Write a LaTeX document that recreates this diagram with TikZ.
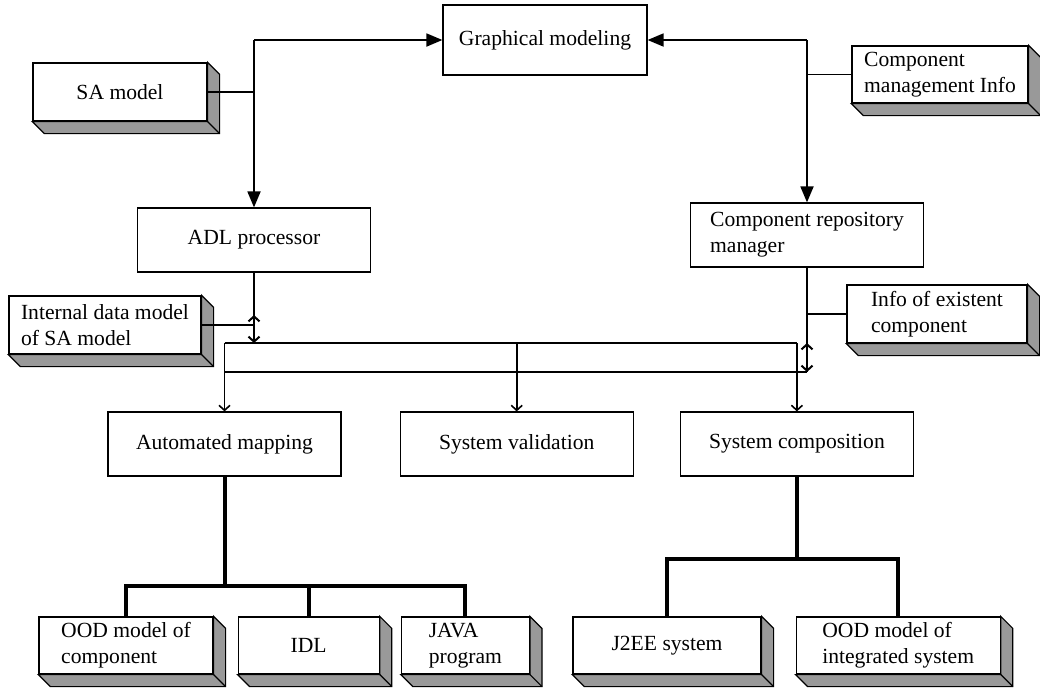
\documentclass[tikz,border=0pt]{standalone}
\usepackage{fontspec}
\setmainfont{Liberation Serif}
\usepackage{tikz}
\usetikzlibrary{positioning,calc,arrows.meta}
\definecolor{slabgray}{gray}{0.6}
\tikzstyle{block} = [draw, rectangle, line width=0.6pt, minimum height=32pt, minimum width=116.5pt, fill=white, align=left]
\tikzstyle{slab} = [draw, rectangle, line width=0.6pt, minimum height=29pt, inner ysep=2pt, fill=white, align=left]
\tikzstyle{arrowto} = [-{Triangle[length=8pt,width=6.5pt]}, line width=0.9pt]
\tikzstyle{feed} = [-{Straight Barb[length=2.5pt,width=5.5pt]}, line width=0.8pt]
\tikzstyle{twoway} = [{Straight Barb[length=2.5pt,width=5.5pt]}-{Straight Barb[length=2.5pt,width=5.5pt]}, line width=1pt]
\tikzstyle{bus} = [line width=0.6pt]
\tikzstyle{thicktree} = [line width=2pt]
\newcommand{\slabside}[1]{%
  \filldraw[fill=slabgray, line width=0.6pt] (#1.north east) -- ++(12,12) -- ($(#1.south east)+(12,12)$)
    -- ($(#1.south west)+(12,12)$) -- (#1.south west) -- (#1.south east) -- cycle;
  \draw[line width=0.6pt] (#1.south east) -- ++(12,12);}

\begin{document}
\begin{tikzpicture}[x=0.5pt, y=-0.5pt, font=\fontsize{10.8}{13}\selectfont]
	\useasboundingbox (0,0) rectangle (1040,687);
	% upper part
	\node (gm) [block, minimum width=102pt, minimum height=35pt] at (545,40) {Graphical modeling};
	\node (sa) [slab, minimum width=87pt] at (120,92) {SA model};
	\node (cmi) [slab, minimum width=88pt, minimum height=28.5pt] at (940,74.5) {Component\\management Info};
	\node (adl) [block] at (254,240) {ADL processor};
	\node (crm) [block] at (807,235) {Component repository\\manager};
	\node (idm) [slab, minimum width=96pt] at (105,325) {Internal data model\\of SA model};
	\node (info) [slab, minimum width=90pt] at (937,314) {Info of existent\\component};
	% tools
	\node (am) [block] at (224.5,444) {Automated mapping};
	\node (sv) [block, right=29pt of am] {System validation};
	\node (sc) [block, right=23pt of sv] {System composition};
	% results
	\node (oodc) [slab, minimum width=87pt, minimum height=28.5pt] at (126,645.5) {OOD model of\\component};
	\node (idl) [slab, minimum width=70.5pt, minimum height=28.5pt, right=12pt of oodc] {IDL};
	\node (java) [slab, minimum width=64pt, minimum height=28.5pt, right=10.5pt of idl] {JAVA\\program};
	\node (j2ee) [slab, minimum width=94pt, minimum height=28.5pt] at (667,645.5) {J2EE system};
	\node (oodi) [slab, minimum width=102pt, minimum height=28.5pt, right=17pt of j2ee] {OOD model of\\integrated system};
	\slabside{sa} \slabside{cmi} \slabside{idm} \slabside{info}
	\slabside{oodc} \slabside{idl} \slabside{java} \slabside{j2ee} \slabside{oodi}
	% graphical modeling links
	\coordinate (tl) at (adl.north |- gm.west);
	\coordinate (tr) at (crm.north |- gm.east);
	\draw [arrowto] (tl) -- (gm.west);
	\draw [arrowto] (tl) -- (adl.north);
	\draw [arrowto] (tr) -- (gm.east);
	\draw [arrowto] (tr) -- (crm.north);
	\draw [bus] (sa.east) -- (sa.east -| tl);
	\draw [bus] (cmi.west) -- (cmi.west -| tr);
	% rails
	\coordinate (ja) at (254,343);
	\coordinate (jc) at (807,372);
	\draw [bus] (adl.south) -- (ja);
	\draw [bus] (idm.east) -- (idm.east -| ja);
	\draw [twoway] ($(ja)+(0,-28)$) -- (ja);
	\draw [bus] (crm.south) -- (jc);
	\draw [bus] (info.west) -- (info.west -| jc);
	\draw [twoway] ($(jc)+(0,-29)$) -- (jc);
	\draw [bus] (am.north |- ja) -- (sc.north |- ja);
	\draw [bus] (am.north |- jc) -- (jc);
	\draw [feed] (am.north |- ja) -- (am.north);
	\draw [feed] (sv.north |- ja) -- (sv.north);
	\draw [feed] (sc.north |- ja) -- (sc.north);
	% outputs
	\draw [thicktree] (am.south) -- ++(0,109) coordinate (ta);
	\draw [thicktree] (oodc.north) |- (ta) -| (java.north);
	\draw [thicktree] (idl.north) -- (idl.north |- ta);
	\draw [thicktree] (sc.south) -- ++(0,82) coordinate (tb);
	\draw [thicktree] (j2ee.north) |- (tb) -| (oodi.north);
\end{tikzpicture}
\end{document}
